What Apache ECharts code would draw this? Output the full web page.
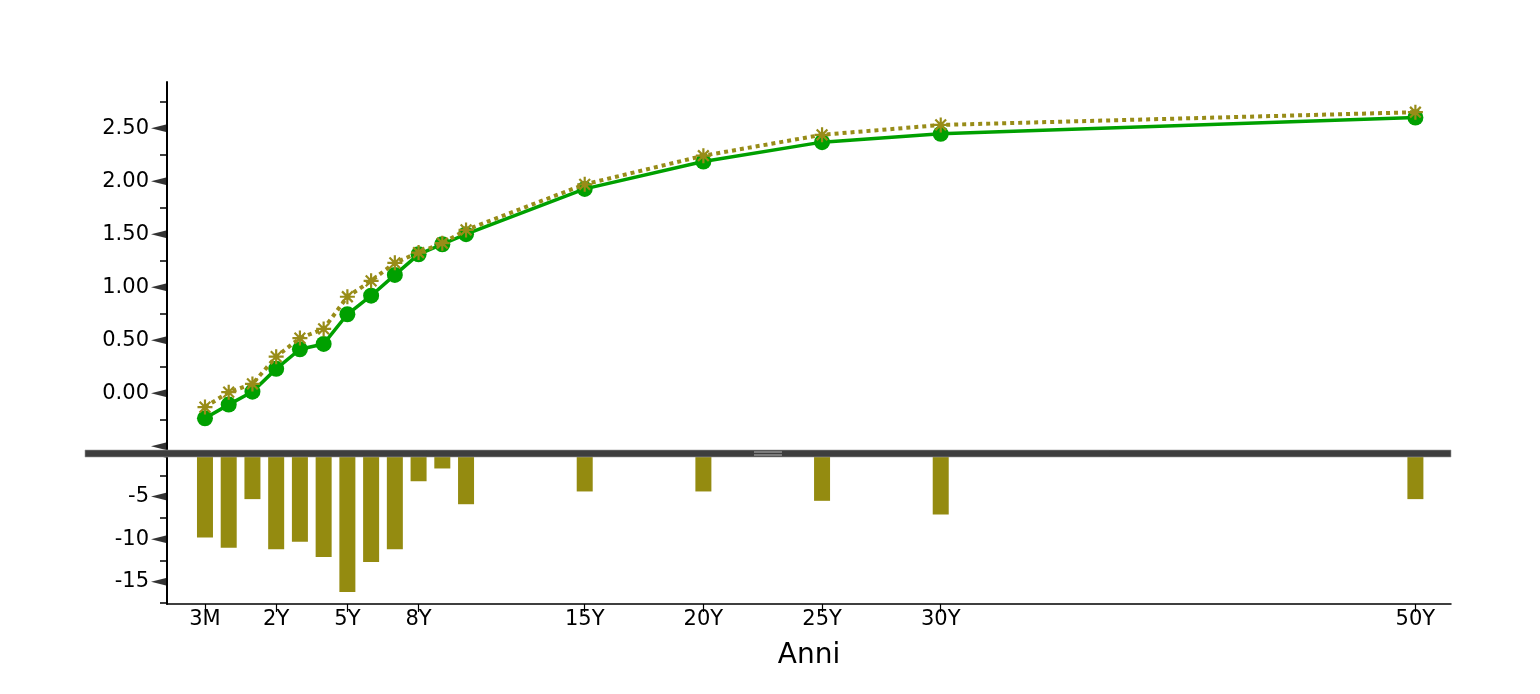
<!DOCTYPE html>
<html>
<head>
<meta charset="utf-8">
<script src="https://cdn.jsdelivr.net/npm/echarts@6/dist/echarts.min.js"></script>
<style>
html,body{margin:0;padding:0;background:#fff;}
#chart{width:1540px;height:694px;}
</style>
</head>
<body>
<div id="chart"></div>
<script>
// ---- data ----
const tenors = ['3M','6M','1Y','2Y','3Y','4Y','5Y','6Y','7Y','8Y','9Y','10Y','15Y','20Y','25Y','30Y','50Y'];
const tenorPos = [-1,0,1,2,3,4,5,6,7,8,9,10,15,20,25,30,50];
const curveGreen = [-0.236,-0.107,0.015,0.23,0.415,0.465,0.745,0.92,1.116,1.31,1.405,1.50,1.927,2.185,2.368,2.446,2.60];
const curveOlive = [-0.13,0.01,0.088,0.345,0.52,0.607,0.91,1.06,1.23,1.327,1.415,1.54,1.97,2.24,2.437,2.53,2.65];
const spreadBp = [-9.8,-11.0,-5.3,-11.2,-10.3,-12.1,-16.2,-12.7,-11.2,-3.2,-1.7,-5.9,-4.4,-4.4,-5.5,-7.1,-5.3];
const xTickValues = [-1,2,5,8,15,20,25,30,50];
const xTickLabels = ['3M','2Y','5Y','8Y','15Y','20Y','25Y','30Y','50Y'];
const topLabelValues = [0,0.5,1,1.5,2,2.5];
const topMajorTicks = [-0.5,0,0.5,1,1.5,2,2.5];
const topMinorTicks = [-0.25,0.25,0.75,1.25,1.75,2.25,2.75];
const botLabelValues = [-5,-10,-15];
const botMajorTicks = [0,-5,-10,-15];
const botMinorTicks = [-2.5,-7.5,-12.5,-17.5];
const xAxisTitle = 'Anni';

// ---- style ----
const GREEN = '#00a000';
const OLIVE = '#988c18';
const BAR = '#948b10';
const FONT = 'DejaVu Sans';
const X_MIN = -2.6, X_MAX = 51.5;

const chart = echarts.init(document.getElementById('chart'), null, {renderer:'canvas'});

const triPath = 'path://M0,4L16,0L16,8Z';
const asterisk = 'path://M7,0L7,14M0,7L14,7M2,2L12,12M2,12L12,2';

function majorTickSeries(values, xi, yi) {
  return {
    type: 'scatter', xAxisIndex: xi, yAxisIndex: yi, silent: true, clip: false,
    symbol: triPath, symbolSize: [16, 8], symbolOffset: [-8, 0],
    itemStyle: {color: '#000'}, z: 4,
    data: values.map(v => [X_MIN, v])
  };
}

const option = {
  animation: false,
  backgroundColor: '#fff',
  grid: [
    {left: 167, right: 89, top: 82, height: 368},
    {left: 167, right: 89, top: 454, height: 150}
  ],
  xAxis: [
    {type:'value', gridIndex:0, min:X_MIN, max:X_MAX, show:false, splitLine:{show:false}},
    {type:'value', gridIndex:1, min:X_MIN, max:X_MAX,
      splitLine:{show:false},
      axisLine:{show:true, onZero:false, lineStyle:{color:'#000', width:1.5}},
      axisTick:{show:true, customValues:xTickValues, length:8, lineStyle:{color:'#000', width:1.2}},
      axisLabel:{customValues:xTickValues, margin:5, color:'#000', fontFamily:FONT, fontSize:21,
        formatter: v => { const i = xTickValues.indexOf(v); return i >= 0 ? xTickLabels[i] : ''; }},
      name: xAxisTitle, nameLocation:'middle', nameGap:38,
      nameTextStyle:{color:'#000', fontFamily:FONT, fontSize:28}
    }
  ],
  yAxis: [
    {type:'value', gridIndex:0, min:-0.535, max:2.935,
      splitLine:{show:false},
      axisLine:{show:true, onZero:false, lineStyle:{color:'#000', width:2}},
      axisTick:{show:true, customValues:topMinorTicks, length:7, lineStyle:{color:'#000', width:1.5}},
      axisLabel:{customValues:topLabelValues, margin:18, color:'#000', fontFamily:FONT, fontSize:21,
        formatter: v => Number(v).toFixed(2)}
    },
    {type:'value', gridIndex:1, min:-17.62, max:0,
      splitLine:{show:false},
      axisLine:{show:true, onZero:false, lineStyle:{color:'#000', width:2}},
      axisTick:{show:true, customValues:botMinorTicks, length:7, lineStyle:{color:'#000', width:1.5}},
      axisLabel:{customValues:botLabelValues, margin:18, color:'#000', fontFamily:FONT, fontSize:21,
        formatter: v => String(v)}
    }
  ],
  series: [
    {
      type:'bar', xAxisIndex:1, yAxisIndex:1, barWidth:16,
      itemStyle:{color:BAR},
      data: tenorPos.map((p,i) => [p, spreadBp[i]])
    },
    {
      type:'line', xAxisIndex:0, yAxisIndex:0, z:3,
      symbol:'circle', symbolSize:16,
      lineStyle:{color:GREEN, width:3.5},
      itemStyle:{color:GREEN, borderWidth:0},
      data: tenorPos.map((p,i) => [p, curveGreen[i]])
    },
    {
      type:'line', xAxisIndex:0, yAxisIndex:0, z:4,
      symbol:asterisk, symbolSize:15,
      lineStyle:{color:OLIVE, width:4, type:[4,4]},
      itemStyle:{color:'rgba(0,0,0,0)', borderColor:OLIVE, borderWidth:2.2},
      data: tenorPos.map((p,i) => [p, curveOlive[i]])
    },
    majorTickSeries(topMajorTicks, 0, 0),
    majorTickSeries(botMajorTicks, 1, 1)
  ],
  graphic: [
    {type:'rect', z:100, shape:{x:85, y:450, width:1366, height:7},
      style:{fill:'#3e3e3e', stroke:'#9a9a9a', lineWidth:0.6}},
    {type:'line', z:101, shape:{x1:754, y1:452, x2:782, y2:452}, style:{stroke:'#b8b8b8', lineWidth:1}},
    {type:'line', z:101, shape:{x1:754, y1:455, x2:782, y2:455}, style:{stroke:'#b8b8b8', lineWidth:1}}
  ]
};
chart.setOption(option);
</script>
</body>
</html>
